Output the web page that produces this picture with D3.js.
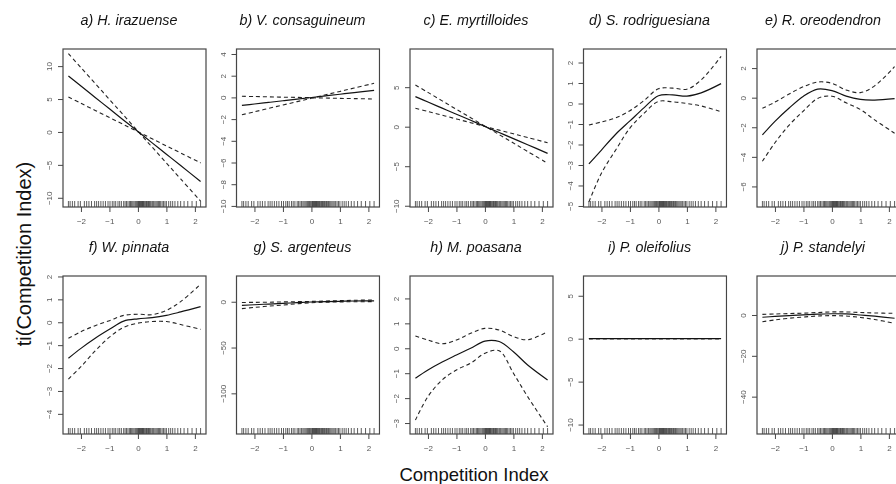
<!DOCTYPE html>
<html>
<head>
<meta charset="utf-8">
<script src="https://cdn.jsdelivr.net/npm/d3@7/dist/d3.min.js"></script>
<style>
  html, body { margin: 0; padding: 0; background: #fff; }
  svg { display: block; font-family: "Liberation Sans", Arial, sans-serif; }
  #chart > g.plot { opacity: 0.99; }
</style>
</head>
<body>
<svg id="chart" width="896" height="484"></svg>
<script>
// Smooth terms of the competition index for ten species (fit and two confidence bounds)
const speciesTitles = [
  "a) H. irazuense", "b) V. consaguineum", "c) E. myrtilloides", "d) S. rodriguesiana", "e) R. oreodendron",
  "f) W. pinnata", "g) S. argenteus", "h) M. poasana", "i) P. oleifolius", "j) P. standelyi"
];

// Competition index values at which each smooth is evaluated
const ciGrid = [-2.44, -2, -1.5, -1, -0.5, 0, 0.5, 1, 1.5, 2.2];

const fitValues = [
  [8.49, 6.97, 5.24, 3.52, 1.79, 0.07, -1.66, -3.38, -5.11, -7.52],
  [-0.74, -0.61, -0.46, -0.31, -0.16, -0.01, 0.14, 0.29, 0.44, 0.65],
  [3.8, 3.12, 2.35, 1.58, 0.81, 0.03, -0.74, -1.51, -2.28, -3.37],
  [-2.95, -2.27, -1.5, -0.85, -0.2, 0.38, 0.42, 0.36, 0.52, 0.97],
  [-2.52, -1.6, -0.7, 0.1, 0.58, 0.48, 0.1, -0.12, -0.16, -0.07],
  [-1.57, -1.14, -0.7, -0.31, 0.05, 0.15, 0.2, 0.3, 0.45, 0.68],
  [-4, -3.3, -2.5, -1.8, -1.0, -0.3, 0.2, 0.5, 0.8, 1.0],
  [-1.2, -0.87, -0.55, -0.27, 0.0, 0.29, 0.27, -0.14, -0.67, -1.27],
  [0, 0, 0, 0, 0, 0, 0, 0, 0, 0],
  [-1.1, -0.7, -0.3, 0.1, 0.4, 0.6, 0.5, 0.0, -0.6, -1.6]
];

const boundOne = [
  [11.9, 9.77, 7.36, 4.94, 2.53, 0.11, -2.31, -4.72, -7.14, -10.5],
  [0.1, 0.08, 0.05, 0.02, 0.0, -0.03, -0.06, -0.09, -0.11, -0.15],
  [5.28, 4.34, 3.27, 2.2, 1.14, 0.07, -1.0, -2.07, -3.14, -4.63],
  [-1.05, -0.9, -0.7, -0.35, 0.15, 0.72, 0.75, 0.7, 1.15, 2.3],
  [-0.72, -0.3, 0.25, 0.74, 1.06, 0.97, 0.52, 0.34, 0.8, 2.1],
  [-0.7, -0.41, -0.15, 0.07, 0.3, 0.35, 0.33, 0.52, 0.9, 1.66],
  [-0.8, -0.7, -0.5, -0.2, 0.1, 0.4, 0.8, 1.2, 1.6, 2.0],
  [0.49, 0.33, 0.18, 0.33, 0.6, 0.8, 0.73, 0.47, 0.34, 0.67],
  [0, 0, 0, 0, 0, 0, 0, 0, 0, 0],
  [0.3, 0.5, 0.7, 0.9, 1.2, 1.5, 1.5, 1.2, 1.0, 0.8]
];

const boundTwo = [
  [5.3, 4.35, 3.27, 2.19, 1.12, 0.04, -1.04, -2.12, -3.19, -4.7],
  [-1.6, -1.33, -1.01, -0.7, -0.39, -0.08, 0.24, 0.55, 0.86, 1.3],
  [2.33, 1.92, 1.45, 0.98, 0.51, 0.04, -0.43, -0.9, -1.37, -2.03],
  [-4.8, -3.4, -2.27, -1.2, -0.47, 0.1, 0.08, 0.0, -0.12, -0.4],
  [-4.3, -3.05, -1.85, -0.9, -0.05, 0.1, -0.35, -0.8, -1.5, -2.4],
  [-2.48, -1.94, -1.25, -0.65, -0.22, -0.04, 0.03, 0.03, -0.1, -0.31],
  [-7.5, -6.2, -4.8, -3.6, -2.2, -1.1, -0.5, -0.2, 0.0, 0.1],
  [-2.88, -1.94, -1.27, -0.87, -0.6, -0.2, -0.1, -1.0, -1.94, -3.15],
  [0, 0, 0, 0, 0, 0, 0, 0, 0, 0],
  [-3.3, -2.4, -1.6, -1.0, -0.5, -0.3, -0.5, -1.2, -2.2, -4.1]
];

// Vertical limits and tick labels of each panel
const yLimits = [
  [-11.4, 12.6], [-10.1, 4.46], [-10.16, 9.83], [-5.05, 2.66], [-7.39, 3.29],
  [-4.88, 2.02], [-144.4, 28.1], [-3.44, 2.9], [-11.1, 7.3], [-58.3, 19.1]
];
const yTickValues = [
  [-10, -5, 0, 5, 10],
  [-10, -8, -6, -4, -2, 0, 2, 4],
  [-10, -5, 0, 5],
  [-5, -4, -3, -2, -1, 0, 1, 2],
  [-6, -4, -2, 0, 2],
  [-4, -3, -2, -1, 0, 1, 2],
  [-100, -50, 0],
  [-3, -2, -1, 0, 1, 2],
  [-10, -5, 0, 5],
  [-40, -20, 0]
];
const xTickValues = [-2, -1, 0, 1, 2];
const xLimits = [-2.63, 2.39];

// Observed competition index values (rug)
const rugValues = [
  -2.44, -2.38, -2.3, -2.22, -2.1, -2.02, -1.88, -1.8, -1.72, -1.63, -1.52, -1.45, -1.38, -1.3,
  -1.22, -1.14, -1.05, -0.98, -0.9, -0.84, -0.78, -0.7, -0.64, -0.58, -0.5, -0.45, -0.4, -0.35,
  -0.3, -0.26, -0.22, -0.18, -0.14, -0.1, -0.07, -0.04, -0.01, 0.02, 0.04, 0.06, 0.08, 0.1,
  0.12, 0.14, 0.16, 0.18, 0.2, 0.22, 0.25, 0.28, 0.3, 0.33, 0.36, 0.38, 0.4, 0.43, 0.46, 0.5,
  0.53, 0.56, 0.6, 0.64, 0.68, 0.72, 0.76, 0.8, 0.85, 0.9, 0.95, 1.0, 1.08, 1.15, 1.22, 1.3,
  1.4, 1.5, 1.62, 1.75, 1.9, 2.05, 2.2
];

const svg = d3.select("#chart");
svg.append("rect").attr("width", 896).attr("height", 484).attr("fill", "#fff");

const panelW = 143, panelH = 158;
const colLeft = [63, 236.5, 410, 583.5, 757];
const rowTop = [49, 276];

const axisGrey = "#444";
const labelGrey = "#555";

speciesTitles.forEach((title, i) => {
  const left = colLeft[i % 5], top = rowTop[Math.floor(i / 5)];
  const g = svg.append("g").attr("class", "plot").attr("transform", `translate(${left},${top})`);

  const x = d3.scaleLinear().domain(xLimits).range([0, panelW]);
  const y = d3.scaleLinear().domain(yLimits[i]).range([panelH, 0]);

  // title
  g.append("text")
    .attr("x", panelW / 2 - 5.5).attr("y", -24)
    .attr("text-anchor", "middle")
    .attr("font-style", "italic")
    .attr("font-size", 14.3)
    .attr("fill", "#111")
    .text(title);

  // x axis
  const xAxis = d3.axisBottom(x).tickValues(xTickValues).tickSize(5).tickPadding(6)
    .tickFormat(d => d3.format("d")(d));
  const gx = g.append("g").attr("transform", `translate(0,${panelH})`).call(xAxis);
  gx.select(".domain").remove();
  gx.selectAll("line").attr("stroke", axisGrey);
  gx.selectAll("text").attr("font-size", 8).attr("fill", labelGrey)
    .attr("font-family", "Liberation Sans, Arial, sans-serif");

  // y axis with rotated labels
  const yAxis = d3.axisLeft(y).tickValues(yTickValues[i]).tickSize(5).tickFormat(d => d3.format("d")(d));
  const gy = g.append("g").call(yAxis);
  gy.select(".domain").remove();
  gy.selectAll("line").attr("stroke", axisGrey);
  gy.selectAll("text")
    .attr("font-size", 8).attr("fill", labelGrey)
    .attr("font-family", "Liberation Sans, Arial, sans-serif")
    .attr("x", null).attr("dy", null)
    .attr("text-anchor", "middle")
    .attr("transform", "translate(-11,0) rotate(-90)");

  // rug
  g.append("g").selectAll("line").data(rugValues).join("line")
    .attr("x1", d => x(d)).attr("x2", d => x(d))
    .attr("y1", panelH).attr("y2", panelH - 6)
    .attr("stroke", "#333").attr("stroke-width", 0.8);

  const pts = arr => arr.map((v, k) => [ciGrid[k], v]);
  const line = d3.line().x(d => x(d[0])).y(d => y(d[1])).curve(d3.curveCatmullRom.alpha(0.5));

  [boundOne[i], boundTwo[i]].forEach(b => {
    g.append("path").attr("d", line(pts(b)))
      .attr("fill", "none").attr("stroke", "#222")
      .attr("stroke-width", 1.1).attr("stroke-dasharray", "4,3");
  });
  g.append("path").attr("d", line(pts(fitValues[i])))
    .attr("fill", "none").attr("stroke", "#111").attr("stroke-width", 1.2);

  // box
  g.append("rect").attr("width", panelW).attr("height", panelH)
    .attr("fill", "none").attr("stroke", axisGrey).attr("stroke-width", 1.2);
});

// shared axis titles
svg.append("text")
  .attr("x", 474).attr("y", 481)
  .attr("text-anchor", "middle")
  .attr("font-size", 18.5).attr("fill", "#111")
  .text("Competition Index");

svg.append("text")
  .attr("transform", "translate(31,254) rotate(-90)")
  .attr("text-anchor", "middle")
  .attr("font-size", 20).attr("fill", "#111")
  .text("ti(Competition Index)");
</script>
</body>
</html>
